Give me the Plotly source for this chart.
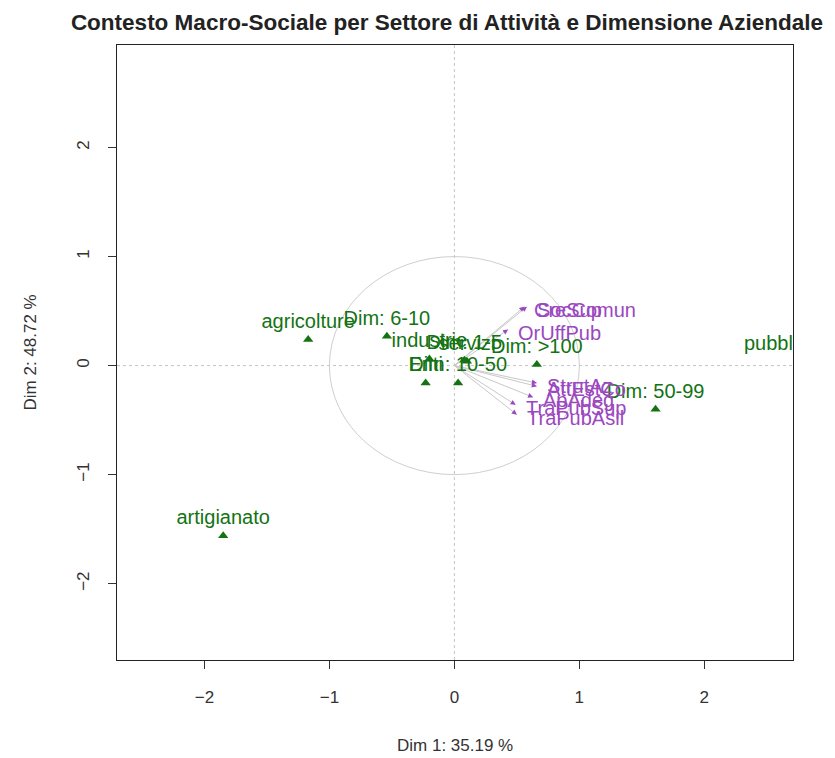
import plotly.graph_objects as go

title_text = "Contesto Macro-Sociale per Settore di Attività e Dimensione Aziendale"
x_title = "Dim 1: 35.19 %"
y_title = "Dim 2: 48.72 %"

# categories (sectors and company size) - green triangles
cat_labels = ["agricolture", "artigianato", "industrie", "servizi", "Enti",
              "pubblica amministrazione", "Dim: 1-5", "Dim: 6-10", "Dim: 10-50",
              "Dim: 50-99", "Dim: >100"]
cat_x = [-1.17, -1.85, -0.20, 0.10, -0.23, 3.22, 0.08, -0.54, 0.03, 1.61, 0.66]
cat_y = [0.24, -1.56, 0.06, 0.04, -0.16, 0.04, 0.05, 0.27, -0.16, -0.40, 0.01]

# supplementary variables - purple arrows
var_labels = ["SocComun", "CreSup", "OrUffPub", "StrutAz", "AttEstCo",
              "ApAdeg", "TraPubSup", "TraPubAsil"]
var_x = [0.58, 0.56, 0.43, 0.66, 0.66, 0.63, 0.49, 0.50]
var_y = [0.54, 0.54, 0.33, -0.16, -0.19, -0.29, -0.36, -0.45]

x_ticks = [-2, -1, 0, 1, 2]
y_ticks = [-2, -1, 0, 1, 2]
x_range = [-2.70, 2.71]
y_range = [-2.70, 2.94]

GREEN = "#137313"
PURPLE = "#9b48bf"
FONT = "Liberation Sans, Arial, sans-serif"

fig = go.Figure()

# arrow shafts
lx, ly = [], []
for vx, vy in zip(var_x, var_y):
    lx += [0, vx, None]
    ly += [0, vy, None]
fig.add_trace(go.Scatter(x=lx, y=ly, mode="lines",
                         line=dict(color="#c9c9c9", width=1),
                         hoverinfo="skip", showlegend=False))

# category points
fig.add_trace(go.Scatter(
    x=cat_x, y=cat_y, mode="markers+text", text=cat_labels,
    textposition="top center",
    textfont=dict(family=FONT, size=20, color=GREEN),
    marker=dict(symbol="triangle-up", size=9, color=GREEN),
    cliponaxis=True, showlegend=False))

annotations = []
for vx, vy, lab in zip(var_x, var_y, var_labels):
    annotations.append(dict(x=vx, y=vy, ax=vx * 0.93, ay=vy * 0.93,
                            xref="x", yref="y", axref="x", ayref="y",
                            showarrow=True, arrowhead=2, arrowsize=1,
                            arrowwidth=1, arrowcolor=PURPLE, text=""))
    annotations.append(dict(x=vx, y=vy, xref="x", yref="y", text=lab,
                            showarrow=False, xanchor="left", yanchor="middle",
                            xshift=8, yshift=-3,
                            font=dict(family=FONT, size=20, color=PURPLE)))

annotations.append(dict(text=x_title, x=0.5, y=0, xref="paper", yref="paper",
                        yshift=-85, showarrow=False, yanchor="middle",
                        font=dict(family=FONT, size=17, color="#333333")))
annotations.append(dict(text=y_title, x=0, y=0.5, xref="paper", yref="paper",
                        xshift=-87, showarrow=False, textangle=-90,
                        xanchor="center",
                        font=dict(family=FONT, size=17, color="#333333")))

shapes = [
    dict(type="circle", xref="x", yref="y", x0=-1, y0=-1, x1=1, y1=1,
         line=dict(color="#cfcfcf", width=1), layer="below"),
    dict(type="line", xref="x", yref="paper", x0=0, x1=0, y0=0, y1=1,
         line=dict(color="#c4c4c4", width=1, dash="dot"), layer="below"),
    dict(type="line", xref="paper", yref="y", x0=0, x1=1, y0=0, y1=0,
         line=dict(color="#c4c4c4", width=1, dash="dot"), layer="below"),
]

W, H = 827, 750  # page body adds an 8px offset
fig.update_layout(
    width=W, height=H,
    margin=dict(l=109, r=42, t=37, b=98, autoexpand=False),
    plot_bgcolor="white", paper_bgcolor="white",
    title=dict(text="<b>" + title_text + "</b>", x=439 / W, xref="container",
               xanchor="center", y=1 - 14 / H, yref="container",
               yanchor="middle",
               font=dict(family=FONT, size=22.5, color="#222222")),
    xaxis=dict(range=x_range, tickvals=x_ticks, ticks="outside", ticklen=8,
               tickcolor="#333333", showline=True, mirror=True,
               linecolor="#222222", linewidth=1, showgrid=False,
               zeroline=False, ticklabelstandoff=14,
               tickfont=dict(family=FONT, size=17, color="#333333")),
    yaxis=dict(range=y_range, tickvals=y_ticks, ticks="outside", ticklen=8,
               tickcolor="#333333", showline=True, mirror=True,
               linecolor="#222222", linewidth=1, showgrid=False,
               zeroline=False, tickangle=-90, ticklabelstandoff=12,
               tickfont=dict(family=FONT, size=17, color="#333333")),
    shapes=shapes,
    annotations=annotations,
)

fig.write_html("out.html")
